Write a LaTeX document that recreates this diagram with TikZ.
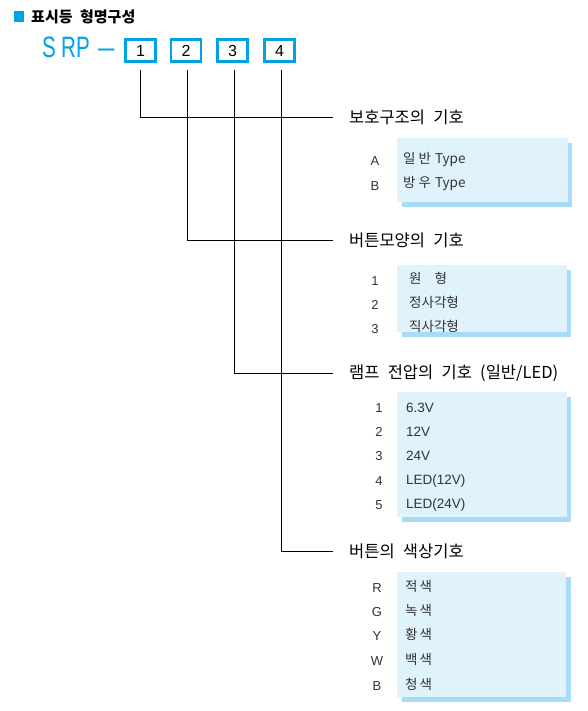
\documentclass[tikz,border=0pt]{standalone}
\usepackage{fontspec}
\setmainfont{Noto Sans CJK KR}
\newfontfamily\latinsans{Liberation Sans}
\definecolor{cyanmain}{HTML}{00A2E6}
\definecolor{boxfill}{HTML}{E0F2FC}
\definecolor{boxshadow}{HTML}{A8DCF6}
\definecolor{itemgray}{HTML}{333333}
\newcommand{\hsp}{\hspace{0.5em}}
\newcommand{\narrowtxt}[1]{\scalebox{0.7}[1]{#1}}
\tikzset{
  numbox/.style={draw=cyanmain,line width=2.2pt,minimum width=30pt,minimum height=22pt,inner sep=0pt,font=\fontsize{16}{16}\selectfont\latinsans},
  heading/.style={anchor=west,inner sep=0pt,font=\fontsize{16.5}{17}\selectfont},
  codelab/.style={inner sep=0pt,text=itemgray,font=\fontsize{13}{13}\selectfont\latinsans},
  itemtxt/.style={anchor=west,inner sep=0pt,text=itemgray,font=\fontsize{13.5}{14}\selectfont},
  itemlat/.style={itemtxt,font=\fontsize{13.5}{14}\selectfont\latinsans},
  srpfont/.style={anchor=base west,inner sep=0pt,text=cyanmain,font=\fontsize{29.5}{30}\selectfont\latinsans},
  conn/.style={draw=black,line width=0.9pt},
  panel/.style={fill=boxfill,draw=none},
  panelshadow/.style={fill=boxshadow,draw=none}
}
\begin{document}
\begin{tikzpicture}[x=1pt,y=-1pt]
\useasboundingbox (0,0) rectangle (588,711);
% title
\fill[cyanmain] (14,11) rectangle (24,22);
\node[anchor=west,inner sep=0pt,font=\fontsize{15}{15}\selectfont\bfseries] (title) at (31,17) {표시등\hsp 형명구성};
% SRP
\node[srpfont] (srps) at (42,58) {\narrowtxt{S}};
\node[srpfont] (srprp) at (61,58) {\narrowtxt{RP}};
\node[srpfont] (dash) at (98,58) {–};
\node[numbox] (b1) at (140.5,50.5) {1};
\node[numbox] (b2) at (186,50.5) {2};
\node[numbox] (b3) at (232.5,50.5) {3};
\node[numbox] (b4) at (279.5,50.5) {4};
% headings
\node[heading] (h1) at (349,117) {보호구조의\hsp 기호};
\node[heading] (h2) at (349,240) {버튼모양의\hsp 기호};
\node[heading] (h3) at (349,373) {램프\hsp 전압의\hsp 기호\hsp (일반/LED)};
\node[heading] (h4) at (349,551) {버튼의\hsp 색상기호};
% connectors
\coordinate (s1) at (140,70);
\coordinate (s2) at (187,70);
\coordinate (s3) at (234,70);
\coordinate (s4) at (281,70);
\draw[conn] (s1) |- ([xshift=-16pt]h1.west);
\draw[conn] (s2) |- ([xshift=-16pt]h2.west);
\draw[conn] (s3) |- ([xshift=-16pt]h3.west);
\draw[conn] (s4) |- ([xshift=-16pt]h4.west);
% panel 1
\fill[panelshadow] (402,143) rectangle (572,207);
\fill[panel] (397,138) rectangle (568,202);
\node[codelab] (c1a) at (375,161) {A};
\node[codelab] (c1b) at (375,186) {B};
\node[itemtxt] (t1a) at (403,159) {일\hspace{3pt}반\hspace{4pt}Type};
\node[itemtxt] (t1b) at (403,183) {방\hspace{3pt}우\hspace{4pt}Type};
% panel 2
\fill[panelshadow] (402,270) rectangle (571,337);
\fill[panel] (397,265) rectangle (567,332);
\node[codelab] (c2a) at (375,281) {1};
\node[codelab] (c2b) at (375,305) {2};
\node[codelab] (c2c) at (375,329) {3};
\node[itemtxt] (t2a) at (409,278) {원\hspace{13pt}형};
\node[itemtxt] (t2b) at (409,302) {정사각형};
\node[itemtxt] (t2c) at (409,326) {직사각형};
% panel 3
\fill[panelshadow] (402,397) rectangle (571,522);
\fill[panel] (397,392) rectangle (567,517);
\node[codelab] (c3a) at (379,408) {1};
\node[codelab] (c3b) at (379,432) {2};
\node[codelab] (c3c) at (379,456) {3};
\node[codelab] (c3d) at (379,481) {4};
\node[codelab] (c3e) at (379,505) {5};
\node[itemlat] (t3a) at (406,408) {6.3V};
\node[itemlat] (t3b) at (406,432) {12V};
\node[itemlat] (t3c) at (406,456) {24V};
\node[itemlat] (t3d) at (406,481) {LED(12V)};
\node[itemlat] (t3e) at (406,505) {LED(24V)};
% panel 4
\fill[panelshadow] (402,577) rectangle (571,702);
\fill[panel] (397,572) rectangle (566,697);
\node[codelab] (c4a) at (377,588) {R};
\node[codelab] (c4b) at (377,612) {G};
\node[codelab] (c4c) at (377,636) {Y};
\node[codelab] (c4d) at (377,661) {W};
\node[codelab] (c4e) at (377,686) {B};
\node[itemtxt] (t4a) at (405,586) {적\hspace{2pt}색};
\node[itemtxt] (t4b) at (405,610) {녹\hspace{2pt}색};
\node[itemtxt] (t4c) at (405,634) {황\hspace{2pt}색};
\node[itemtxt] (t4d) at (405,659) {백\hspace{2pt}색};
\node[itemtxt] (t4e) at (405,684) {청\hspace{2pt}색};
\end{tikzpicture}
\end{document}
